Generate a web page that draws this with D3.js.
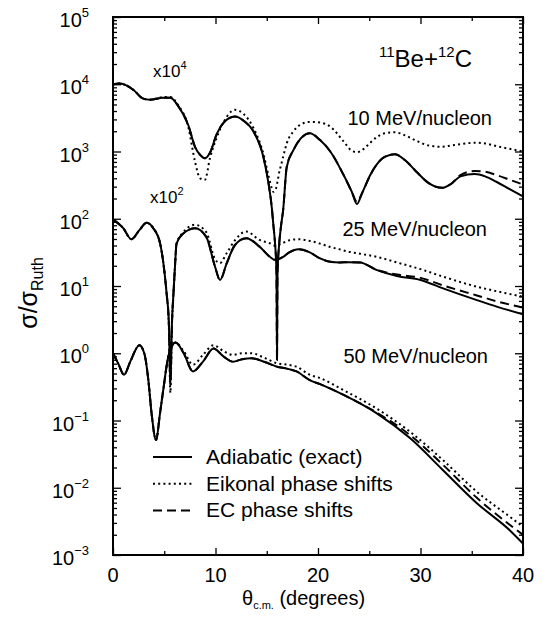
<!DOCTYPE html>
<html>
<head>
<meta charset="utf-8">
<script src="https://cdn.jsdelivr.net/npm/d3@7"></script>
<style>
  html, body { margin: 0; padding: 0; background: #fff; }
  svg { display: block; font-family: "Liberation Sans", Arial, Helvetica, sans-serif; }
</style>
</head>
<body>
<svg id="chart" width="548" height="626"></svg>
<script>
// ---------------- DATA (values already multiplied by the plotted factors) ----------------
// 10 MeV/nucleon  (x10^4)
const theta10 = [0, 0.6, 1.2, 2.0, 2.9, 3.6, 4.9, 5.6, 6.3, 7.35, 8.0, 8.5, 8.97, 9.46, 10.1, 10.8, 11.9, 12.8, 13.7, 14.7,
  15.2, 15.5, 15.65, 15.8, 15.95, 16.0, 16.05, 16.2, 16.4, 16.6, 16.95, 17.6, 18.3, 19.2, 20.2, 21.2, 22.5, 23.3, 23.8, 24.3,
  25.1, 25.7, 26.5, 27.5, 28.5, 29.6, 30.8, 32.1, 33.0, 33.9, 35.3, 36.3, 37.4, 38.7, 40];
const adiabatic10 = [10000, 10230, 9772, 8222, 6166, 5888, 6310, 6310, 4898, 2455, 1175, 891, 794, 955, 1778, 2692, 3311, 2818, 1995, 794,
  316, 143, 79.4, 44.7, 15.8, 0.79, 15.8, 39.8, 79.4, 135, 589, 1047, 1549, 1862, 1479, 1000, 447, 251, 166, 240,
  447, 631, 832, 912, 741, 501, 339, 288, 331, 427, 462, 427, 355, 275, 214];
const eikonal10 = [10000, 10230, 9772, 8222, 6166, 5888, 6457, 6457, 5012, 2291, 708, 398, 380, 794, 1585, 2754, 4169, 3548, 2239, 891,
  417, 282, 251, 263, 302, 331, 355, 479, 631, 832, 1318, 1995, 2512, 2754, 2692, 2344, 1413, 1023, 977, 1047,
  1349, 1622, 1862, 1928, 1738, 1445, 1230, 1175, 1230, 1288, 1349, 1318, 1202, 1096, 1000];
const ec10 = [10000, 10230, 9772, 8222, 6166, 5888, 6310, 6310, 4898, 2455, 1175, 891, 794, 955, 1778, 2692, 3311, 2818, 1995, 794,
  316, 143, 79.4, 44.7, 15.8, 0.79, 15.8, 39.8, 79.4, 135, 589, 1047, 1549, 1862, 1479, 1000, 447, 251, 178, 240,
  447, 631, 832, 912, 741, 501, 339, 288, 331, 447, 513, 501, 447, 380, 324];

// 25 MeV/nucleon  (x10^2)
const theta25 = [0, 1.0, 1.8, 2.57, 3.28, 3.93, 4.6, 5.07, 5.23, 5.45, 5.6, 5.75, 5.9, 6.05, 6.2, 6.86, 8.0, 9.1, 9.95, 10.44,
  11.1, 11.9, 13.0, 14.3, 15.3, 15.8, 16.6, 17.2, 18.1, 19.2, 20.2, 21.2, 22.1, 23.0, 24.1, 25.7, 27.7, 30, 32.2, 35.5, 37.5, 40];
const adiabatic25 = [97.7, 72.4, 49.5, 67.6, 87.1, 72.4, 42.7, 13.8, 7.76, 2.82, 0.339, 2.82, 7.76, 20.0, 42.7, 60.3, 72.4, 53.7, 19.5, 12.3,
  21.9, 40.7, 51.3, 38.5, 27.2, 24.5, 27.2, 31.6, 35.1, 31.6, 25.7, 22.9, 22.4, 22.6, 22.4, 17.4, 14.1, 12.3, 9.23, 6.17, 4.90, 3.80];
const eikonal25 = [97.7, 72.4, 49.5, 67.6, 87.1, 72.4, 42.7, 13.8, 7.76, 2.51, 0.257, 2.51, 7.76, 20.0, 42.7, 63.1, 81.3, 63.1, 25.1, 21.9,
  30.9, 47.9, 64.6, 48.4, 43.2, 39.8, 43.7, 47.9, 49.5, 46.8, 42.7, 38.0, 35.1, 32.4, 30.2, 27.2, 22.4, 17.8, 13.8, 9.77, 8.32, 6.92];
const ec25 = [97.7, 72.4, 49.5, 67.6, 87.1, 72.4, 42.7, 13.8, 7.76, 2.82, 0.339, 2.82, 7.76, 20.0, 42.7, 60.3, 72.4, 53.7, 19.5, 12.3,
  21.9, 40.7, 51.3, 38.5, 27.2, 24.5, 27.2, 31.6, 35.1, 31.6, 25.7, 22.9, 22.4, 22.6, 22.4, 17.4, 14.8, 13.2, 10.2, 7.24, 5.89, 4.79];

// 50 MeV/nucleon  (x1)
const theta50 = [0, 0.5, 1.07, 1.7, 2.57, 3.05, 3.45, 3.76, 4.2, 4.59, 4.9, 5.4, 6.1, 6.9, 7.8, 8.8, 9.8, 10.8, 11.7, 12.6,
  13.5, 14.8, 16.0, 17.0, 17.9, 19.2, 20.2, 22.5, 25.7, 29, 32.2, 35.5, 38.7, 40];
const adiabatic50 = [1.0, 0.708, 0.479, 0.759, 1.318, 1.0, 0.398, 0.129, 0.0513, 0.129, 0.282, 0.891, 1.445, 1.0, 0.537, 0.759, 1.175, 0.891, 0.750, 0.813,
  0.841, 0.741, 0.631, 0.589, 0.537, 0.398, 0.347, 0.240, 0.129, 0.0543, 0.0182, 0.00589, 0.00234, 0.00148];
const eikonal50 = [1.0, 0.708, 0.479, 0.759, 1.318, 1.0, 0.398, 0.129, 0.0513, 0.129, 0.282, 0.891, 1.445, 1.072, 0.676, 0.955, 1.318, 1.072, 0.944, 1.0,
  1.0, 0.851, 0.708, 0.676, 0.631, 0.479, 0.427, 0.282, 0.151, 0.0676, 0.0257, 0.00871, 0.00372, 0.00263];
const ec50 = [1.0, 0.708, 0.479, 0.759, 1.318, 1.0, 0.398, 0.129, 0.0513, 0.129, 0.282, 0.891, 1.445, 1.0, 0.537, 0.759, 1.175, 0.891, 0.750, 0.813,
  0.841, 0.741, 0.631, 0.589, 0.537, 0.398, 0.347, 0.240, 0.132, 0.0603, 0.0219, 0.00708, 0.00282, 0.00200];

const xTickValues = [0, 10, 20, 30, 40];
const xMinorTickValues = [5, 15, 25, 35];
const yDecades = [1e-3, 1e-2, 1e-1, 1e0, 1e1, 1e2, 1e3, 1e4, 1e5];
const energyLabels = ["10 MeV/nucleon", "25 MeV/nucleon", "50 MeV/nucleon"];
const legendLabels = ["Adiabatic (exact)", "Eikonal phase shifts", "EC phase shifts"];

// ---------------- CHART ----------------
const svg = d3.select("#chart");
const L = 113, R = 523, T = 17, B = 555;
const x = d3.scaleLinear().domain([0, 40]).range([L, R]);
const y = d3.scaleLog().domain([1e-3, 1e5]).range([B, T]);

const styles = {
  adiabatic: { dash: null, width: 2 },
  eikonal: { dash: "2,3.2", width: 2 },
  ec: { dash: "9,5", width: 2 }
};

const series = [
  { t: theta10, v: eikonal10, s: "eikonal" }, { t: theta25, v: eikonal25, s: "eikonal" }, { t: theta50, v: eikonal50, s: "eikonal" },
  { t: theta10, v: ec10, s: "ec" }, { t: theta25, v: ec25, s: "ec" }, { t: theta50, v: ec50, s: "ec" },
  { t: theta10, v: adiabatic10, s: "adiabatic" }, { t: theta25, v: adiabatic25, s: "adiabatic" }, { t: theta50, v: adiabatic50, s: "adiabatic" }
];

svg.append("defs").append("clipPath").attr("id", "clip")
  .append("rect").attr("x", L).attr("y", T).attr("width", R - L).attr("height", B - T);

const line = d3.line().x(d => x(d[0])).y(d => y(d[1])).curve(d3.curveMonotoneX);
const plot = svg.append("g").attr("clip-path", "url(#clip)");
series.forEach(se => {
  const pts = se.t.map((t, i) => [t, se.v[i]]);
  plot.append("path").datum(pts)
    .attr("d", line)
    .attr("fill", "none")
    .attr("stroke", "#000")
    .attr("stroke-width", styles[se.s].width)
    .attr("stroke-dasharray", styles[se.s].dash)
    .attr("stroke-linejoin", "round");
});

// axes (ticks inside on all four sides)
const yMinor = y.ticks().filter(v => !yDecades.some(d => Math.abs(v / d - 1) < 1e-6));
function styleAxis(g) {
  g.select(".domain").remove();
  g.selectAll(".tick line").attr("stroke", "#000").attr("stroke-width", 1.3);
  g.selectAll(".tick text").remove();
}
svg.append("g").attr("transform", `translate(${L},0)`).call(d3.axisLeft(y).tickValues(yDecades).tickSize(-8)).call(styleAxis);
svg.append("g").attr("transform", `translate(${L},0)`).call(d3.axisLeft(y).tickValues(yMinor).tickSize(-4)).call(styleAxis);
svg.append("g").attr("transform", `translate(${R},0)`).call(d3.axisRight(y).tickValues(yDecades).tickSize(-8)).call(styleAxis);
svg.append("g").attr("transform", `translate(${R},0)`).call(d3.axisRight(y).tickValues(yMinor).tickSize(-4)).call(styleAxis);
svg.append("g").attr("transform", `translate(0,${B})`).call(d3.axisBottom(x).tickValues(xTickValues).tickSize(-7)).call(styleAxis);
svg.append("g").attr("transform", `translate(0,${B})`).call(d3.axisBottom(x).tickValues(xMinorTickValues).tickSize(-4)).call(styleAxis);
svg.append("g").attr("transform", `translate(0,${T})`).call(d3.axisTop(x).tickValues(xTickValues).tickSize(-7)).call(styleAxis);
svg.append("g").attr("transform", `translate(0,${T})`).call(d3.axisTop(x).tickValues(xMinorTickValues).tickSize(-4)).call(styleAxis);

svg.append("rect").attr("x", L).attr("y", T).attr("width", R - L).attr("height", B - T)
  .attr("fill", "none").attr("stroke", "#000").attr("stroke-width", 2);

// tick labels
xTickValues.forEach(v => {
  svg.append("text").attr("x", x(v)).attr("y", B + 27).attr("text-anchor", "middle")
    .attr("font-size", 20).text(v);
});
yDecades.forEach(v => {
  const e = Math.round(Math.log10(v));
  const t = svg.append("text").attr("x", 89).attr("y", y(v) + 10).attr("text-anchor", "end").attr("font-size", 20);
  t.append("tspan").text("10");
  t.append("tspan").attr("dy", -10).attr("font-size", 13).text(e < 0 ? "\u2212" + (-e) : String(e));
});

// axis titles
const xt = svg.append("text").attr("x", 242).attr("y", 605).attr("font-size", 20);
xt.append("tspan").text("\u03b8");
xt.append("tspan").attr("dy", 4).attr("font-size", 11).text("c.m.");
xt.append("tspan").attr("dy", -4).text(" (degrees)");

const yt = svg.append("text").attr("transform", "translate(37,293) rotate(-90)")
  .attr("text-anchor", "middle").attr("font-size", 25);
yt.append("tspan").text("\u03c3/\u03c3");
yt.append("tspan").attr("dy", 6).attr("font-size", 16).text("Ruth");

// annotations
const title = svg.append("text").attr("x", 379).attr("y", 67).attr("font-size", 24);
title.append("tspan").attr("dy", -10).attr("font-size", 15).text("11");
title.append("tspan").attr("dy", 10).text("Be+");
title.append("tspan").attr("dy", -10).attr("font-size", 15).text("12");
title.append("tspan").attr("dy", 10).text("C");

function factor(xp, yp, exp) {
  const t = svg.append("text").attr("x", xp).attr("y", yp).attr("font-size", 17);
  t.append("tspan").text("x10");
  t.append("tspan").attr("dy", -8).attr("font-size", 11).text(exp);
}
factor(153, 77, "4");
factor(150, 203, "2");

const energyPos = [[492, 125], [487, 236], [488, 363]];
energyLabels.forEach((lab, i) => {
  svg.append("text").attr("x", energyPos[i][0]).attr("y", energyPos[i][1])
    .attr("text-anchor", "end").attr("font-size", 20).text(lab);
});

// legend
const legendKeys = ["adiabatic", "eikonal", "ec"];
legendLabels.forEach((lab, i) => {
  const yy = 457 + i * 26.7;
  svg.append("line").attr("x1", 153).attr("x2", 192).attr("y1", yy).attr("y2", yy)
    .attr("stroke", "#000").attr("stroke-width", 2)
    .attr("stroke-dasharray", styles[legendKeys[i]].dash);
  svg.append("text").attr("x", 206).attr("y", yy + 7).attr("font-size", 21).text(lab);
});
</script>
</body>
</html>
